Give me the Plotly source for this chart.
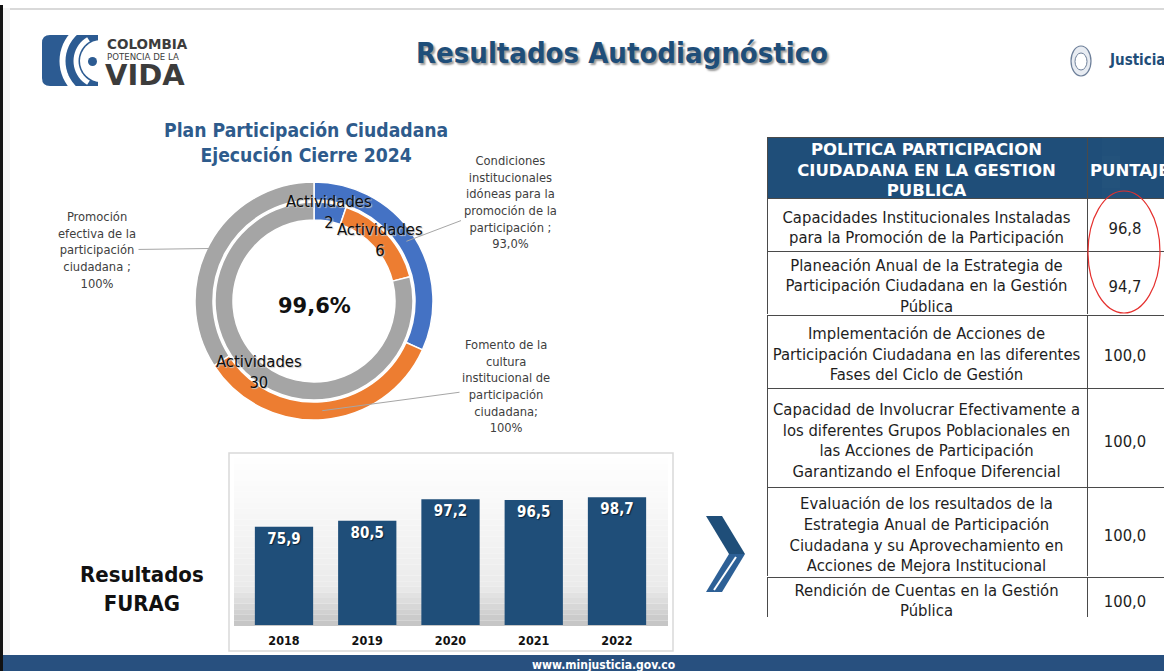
import math
import plotly.graph_objects as go

W, H = 1164, 671
def X(px): return px / W
def Y(py): return 1 - py / H

FONT = "DejaVu Sans Condensed, DejaVu Sans, sans-serif"
FONT_WIDE = "DejaVu Sans, sans-serif"

# ---------------- data ----------------
categories = ["Condiciones institucionales idóneas para la promoción de la participación",
              "Fomento de la cultura institucional de participación ciudadana",
              "Promoción efectiva de la participación ciudadana"]
category_texts = ["Condiciones<br>institucionales<br>idóneas para la<br>promoción de la<br>participación ;<br>93,0%",
                  "Fomento de la<br>cultura<br>institucional de<br>participación<br>ciudadana;<br>100%",
                  "Promoción<br>efectiva de la<br>participación<br>ciudadana ;<br>100%"]
cumplimiento_pct = [93.0, 100.0, 100.0]
actividades = [2, 6, 30]
actividades_name = "Actividades"
ejecucion_total = "99,6%"
slice_colors = ["#4472c4", "#ed7d31", "#a5a5a5"]

furag_years = ["2018", "2019", "2020", "2021", "2022"]
furag_scores = [75.9, 80.5, 97.2, 96.5, 98.7]

table_header = [["POLITICA PARTICIPACION", "CIUDADANA EN LA GESTION", "PUBLICA"], "PUNTAJE"]
table_components = [
    ["Capacidades Institucionales Instaladas", "para la Promoción de la Participación"],
    ["Planeación Anual de la Estrategia de", "Participación Ciudadana en la Gestión", "Pública"],
    ["Implementación de Acciones de", "Participación Ciudadana en las diferentes", "Fases del Ciclo de Gestión"],
    ["Capacidad de Involucrar Efectivamente a", "los diferentes Grupos Poblacionales en",
     "las Acciones de Participación", "Garantizando el Enfoque Diferencial"],
    ["Evaluación de los resultados de la", "Estrategia Anual de Participación",
     "Ciudadana y su Aprovechamiento en", "Acciones de Mejora Institucional"],
    ["Rendición de Cuentas en la Gestión", "Pública"],
]
table_scores = [96.8, 94.7, 100.0, 100.0, 100.0, 100.0]

def fmt(v):
    return f"{v:.1f}".replace(".", ",")

# ---------------- layout geometry (pixels) ----------------
CX, CY = 314, 301
R_OUT, R_OUT_IN = 119, 101
R_IN, R_IN_IN = 99, 81
row_edges = [137, 198, 251, 315, 388, 487, 577, 618]
TX0, TXD = 767, 1087
colw = [TXD - TX0, W - TXD]
LINE_STEP = 20.6

annotations = []
shapes = []

def ann(x, y, text, font, xanchor="center", yanchor="middle", **kw):
    d = dict(x=X(x), y=Y(y), xref="paper", yref="paper", showarrow=False, text=text,
             font=font, xanchor=xanchor, yanchor=yanchor)
    d.update(kw)
    annotations.append(d)

fig = go.Figure()

# ---- donut: outer ring (percent) and inner ring (activities) ----
fig.add_trace(go.Pie(
    values=cumplimiento_pct, labels=categories, hole=R_OUT_IN / R_OUT, sort=False,
    direction="clockwise", rotation=0, textinfo="none", showlegend=False,
    marker=dict(colors=slice_colors, line=dict(color="white", width=1.5)),
    domain=dict(x=[X(CX - R_OUT), X(CX + R_OUT)], y=[Y(CY + R_OUT), Y(CY - R_OUT)])))
fig.add_trace(go.Pie(
    values=actividades, labels=categories, hole=R_IN_IN / R_IN, sort=False,
    direction="clockwise", rotation=0, textinfo="none", showlegend=False,
    marker=dict(colors=slice_colors, line=dict(color="white", width=1.5)),
    domain=dict(x=[X(CX - R_IN), X(CX + R_IN)], y=[Y(CY + R_IN), Y(CY - R_IN)])))

def mid_angles(vals):
    tot = sum(vals)
    out, acc = [], 0
    for v in vals:
        out.append((acc + v / 2) / tot * 360)
        acc += v
    return out

def polar(r, ang):
    a = math.radians(ang)
    return CX + r * math.sin(a), CY - r * math.cos(a)

# inner ring labels
for ang, v in zip(mid_angles(actividades), actividades):
    px, py = polar(90, ang)
    ann(px, py, f"{actividades_name}<br>{v}",
        dict(family=FONT, size=16.5, color="#0d0d0d", shadow="1px 1px 1px #c8c8c8"))

# outer ring labels with leader lines
label_centers = [(510, 202), (506, 386), (97, 250)]
for ang, txt, (tx, ty) in zip(mid_angles(cumplimiento_pct), category_texts, label_centers):
    px, py = polar(110, ang)
    annotations.append(dict(x=X(px), y=Y(py), xref="paper", yref="paper", showarrow=True,
                            ax=tx - px, ay=ty - py, arrowhead=0, arrowwidth=1, arrowcolor="#a6a6a6",
                            text=txt, align="center", borderpad=2,
                            font=dict(family=FONT, size=12.8, color="#404040")))

ann(CX, 306, f"<b>{ejecucion_total}</b>", dict(family=FONT_WIDE, size=21, color="#111111"))
ann(306, 143, "<b>Plan Participación Ciudadana<br>Ejecución Cierre 2024</b>",
    dict(family=FONT, size=19.2, color="#2e5b8c"))

# ---- FURAG bar chart ----
BX0, BX1, BY0, BY1 = 229, 673, 453, 651
n = 30
G_TOP, G_BOT = 458, 626
for i in range(n):
    y0 = G_TOP + i * (G_BOT - G_TOP) / n
    y1 = G_TOP + (i + 1) * (G_BOT - G_TOP) / n
    t = i / (n - 1)
    g = int(254 - 26 * t ** 1.2 - (30 * ((t - 0.78) / 0.22) if t > 0.78 else 0))
    shapes.append(dict(type="rect", xref="paper", yref="paper", x0=X(BX0 + 5), x1=X(BX1 - 5),
                       y0=Y(y1), y1=Y(y0), line=dict(width=0),
                       fillcolor=f"rgb({g},{g},{g})", layer="below"))
shapes.append(dict(type="rect", xref="paper", yref="paper", x0=X(BX0), x1=X(BX1), y0=Y(BY1), y1=Y(BY0),
                   line=dict(color="#d9d9d9", width=1.5), fillcolor="rgba(0,0,0,0)", layer="below"))

fig.add_trace(go.Bar(
    x=furag_years, y=furag_scores, marker=dict(color="#1f4e79", line=dict(width=0)),
    text=[fmt(v) for v in furag_scores], textposition="inside", insidetextanchor="end",
    textfont=dict(family=FONT, size=15, color="white", weight="bold", shadow="1px 1px 1px #0b2238"),
    cliponaxis=False, showlegend=False, xaxis="x", yaxis="y"))

BAR_STEP = 83.25
fig.update_layout(
    xaxis=dict(domain=[X(284 - BAR_STEP / 2), X(617 + BAR_STEP / 2)], anchor="y", showgrid=False,
               showline=False, zeroline=False, ticks="", ticklabelstandoff=6,
               tickfont=dict(family=FONT, size=12.5, color="#111111", weight="bold"), fixedrange=True),
    yaxis=dict(domain=[Y(625), Y(625 - 129.5)], range=[0, 100], visible=False, fixedrange=True),
    bargap=0.30,
)

ann(142, 589, "<b>Resultados<br>FURAG</b>", dict(family=FONT, size=22, color="#111111"))

# chevron arrow
shapes.append(dict(type="path", xref="paper", yref="paper",
                   path=f"M {X(706)},{Y(516)} L {X(722)},{Y(516)} L {X(745)},{Y(554)} L {X(729)},{Y(554)} Z",
                   fillcolor="#1f4e79", line=dict(width=0)))
shapes.append(dict(type="path", xref="paper", yref="paper",
                   path=f"M {X(729)},{Y(554)} L {X(745)},{Y(554)} L {X(722)},{Y(592)} L {X(706)},{Y(592)} Z",
                   fillcolor="#2d6096", line=dict(width=0)))
shapes.append(dict(type="line", xref="paper", yref="paper", x0=X(736), y0=Y(557), x1=X(714), y1=Y(590),
                   line=dict(color="white", width=2)))

# ---- table (grid rows + text lines + scores) ----
def text_line(x0, x1, cy, text, font, align="center"):
    top = cy - 13.5
    return go.Table(domain=dict(x=[X(x0), X(x1)], y=[Y(top + 34), Y(top)]),
                    header=dict(values=[text], height=30, fill_color="rgba(0,0,0,0)",
                                line=dict(width=0, color="rgba(0,0,0,0)"), align=align, font=font),
                    cells=dict(values=[[]]))

BODY_FONT = dict(family=FONT, size=16.5, color="#1e1e1e")
HEAD_FONT = dict(family=FONT_WIDE, size=16.5, color="white", weight="bold")
all_rows = [table_header[0]] + table_components
all_scores = [table_header[1]] + [fmt(s) for s in table_scores]
for i, lines in enumerate(all_rows):
    top, bot = row_edges[i], row_edges[i + 1]
    fig.add_trace(go.Table(
        domain=dict(x=[X(TX0), 1], y=[Y(bot), Y(top)]), columnwidth=colw,
        header=dict(values=[" ", " "], height=bot - top,
                    fill_color="#1f4e79" if i == 0 else "white",
                    line=dict(color="#4a4a4a", width=1)),
        cells=dict(values=[[], []])))
    c = (top + bot) / 2
    nl = len(lines)
    font = HEAD_FONT if i == 0 else BODY_FONT
    for k, ln in enumerate(lines):
        fig.add_trace(text_line(TX0 - 16, TXD + 16, c + 1.5 + (k - (nl - 1) / 2) * LINE_STEP, ln, font))
    if i == 0:
        fig.add_trace(text_line(TXD - 5, W, c + 1.5, all_scores[i], font, align="left"))
    else:
        fig.add_trace(text_line(TXD, W, c + 2.5, all_scores[i], font))

shapes.append(dict(type="circle", xref="paper", yref="paper", x0=X(1088), x1=X(1160), y0=Y(313), y1=Y(191),
                   line=dict(color="#e5302e", width=1.2)))

# ---- header / footer / frame ----
shapes.append(dict(type="rect", xref="paper", yref="paper", x0=0, x1=X(3), y0=0, y1=Y(5),
                   fillcolor="#111111", line=dict(width=0), layer="below"))
shapes.append(dict(type="rect", xref="paper", yref="paper", x0=X(3), x1=X(10), y0=Y(655), y1=Y(8),
                   fillcolor="#f3f3f3", line=dict(width=0), layer="below"))
shapes.append(dict(type="line", xref="paper", yref="paper", x0=X(10), x1=1, y0=Y(9), y1=Y(9),
                   line=dict(color="#d9d9d9", width=2), layer="below"))
shapes.append(dict(type="rect", xref="paper", yref="paper", x0=X(3), x1=1, y0=0, y1=Y(655),
                   fillcolor="#28507f", line=dict(width=0)))
ann(603, 665, "<b>www.minjusticia.gov.co</b>", dict(family=FONT, size=12, color="white"))

ann(622, 53, "<b>Resultados Autodiagnóstico</b>",
    dict(family=FONT, size=29, color="#1f4e79", shadow="2px 2px 2px #9a9a9a"))

# Colombia logo
LOGO_BLUE = "#2c5b92"
shapes.append(dict(type="path", xref="paper", yref="paper",
                   path=(f"M {X(50)},{Y(35)} L {X(101)},{Y(35)} L {X(101)},{Y(86)} L {X(50)},{Y(86)} "
                         f"Q {X(42)},{Y(86)} {X(42)},{Y(78)} L {X(42)},{Y(43)} Q {X(42)},{Y(35)} {X(50)},{Y(35)} Z"),
                   fillcolor=LOGO_BLUE, line=dict(width=0)))
LCX, LCY = 101, 61
for rr, wdt in [(38.5, 6), (25, 5)]:
    pts = [(LCX - rr * math.cos(math.radians(a)), LCY - rr * math.sin(math.radians(a)))
           for a in [-60 + k * 6 for k in range(21)]]
    path = "M " + " L ".join(f"{X(a)},{Y(b)}" for a, b in pts)
    shapes.append(dict(type="path", xref="paper", yref="paper", path=path,
                       line=dict(color="white", width=wdt)))
shapes.append(dict(type="circle", xref="paper", yref="paper", x0=X(LCX - 21), x1=X(LCX + 21),
                   y0=Y(LCY + 21), y1=Y(LCY - 21), fillcolor="white", line=dict(width=0)))
shapes.append(dict(type="rect", xref="paper", yref="paper", x0=X(98), x1=X(103), y0=Y(88), y1=Y(33),
                   fillcolor="white", line=dict(width=0)))
shapes.append(dict(type="circle", xref="paper", yref="paper", x0=X(88), x1=X(97), y0=Y(66), y1=Y(57),
                   fillcolor=LOGO_BLUE, line=dict(width=0)))
ann(105, 44, "<b>COLOMBIA</b>", dict(family=FONT_WIDE, size=13.5, color="#3c3c3c"), xanchor="left")
ann(105, 57.5, "POTENCIA DE LA", dict(family=FONT_WIDE, size=8.6, color="#3c3c3c"), xanchor="left")
ann(103, 75, "<b>VIDA</b>", dict(family=FONT_WIDE, size=29, color="#3c3c3c"), xanchor="left")

# Justicia emblem
shapes.append(dict(type="circle", xref="paper", yref="paper", x0=X(1071), x1=X(1091), y0=Y(76), y1=Y(46),
                   line=dict(color="#6d7f99", width=1.2), fillcolor="#e8ecf2"))
shapes.append(dict(type="circle", xref="paper", yref="paper", x0=X(1075), x1=X(1087), y0=Y(70), y1=Y(53),
                   line=dict(color="#6d7f99", width=1), fillcolor="#ffffff"))
ann(1107, 60, "<b>Justicia</b>", dict(family=FONT, size=15, color="#1f4e79"), xanchor="left")

fig.update_layout(width=W, height=H, margin=dict(l=0, r=0, t=0, b=0), paper_bgcolor="white",
                  plot_bgcolor="rgba(0,0,0,0)", shapes=shapes, annotations=annotations, showlegend=False)

fig.write_html("out.html")
